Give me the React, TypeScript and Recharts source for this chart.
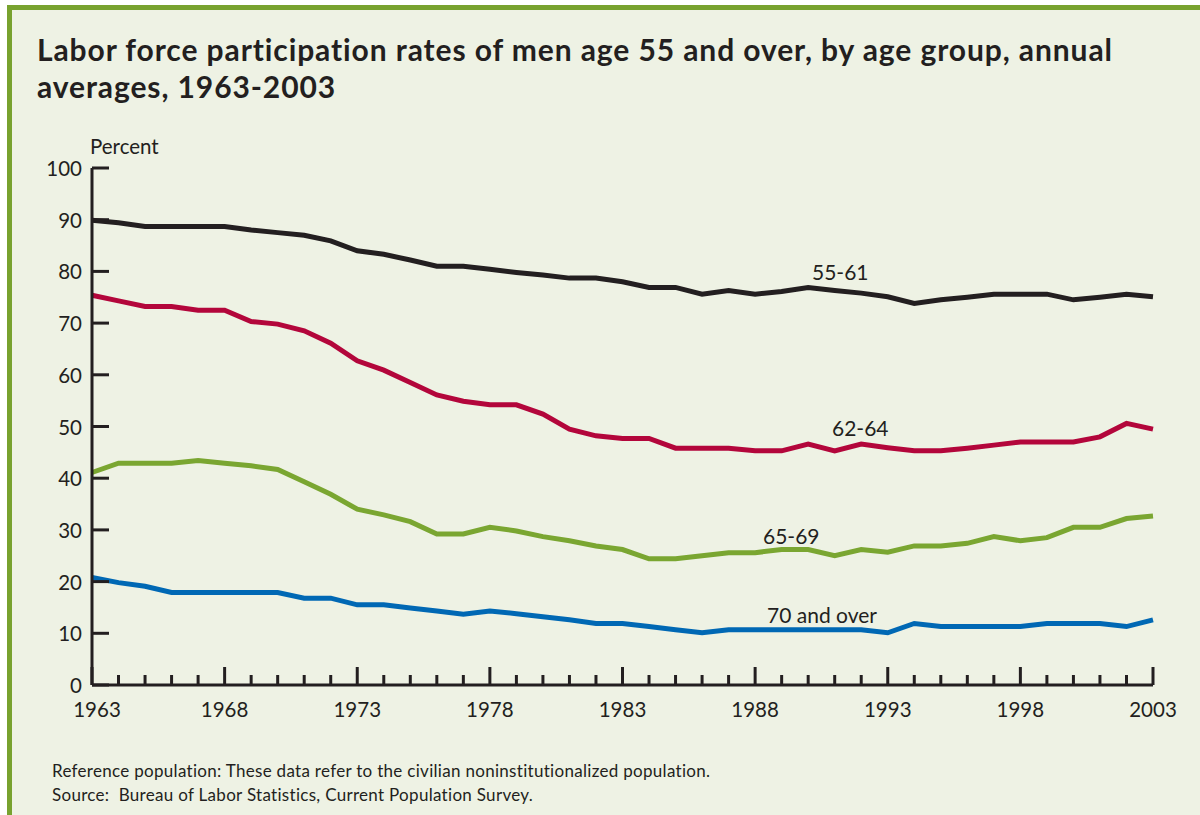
import { Line, LineChart, XAxis, YAxis } from "recharts";

const years = [
  1963, 1964, 1965, 1966, 1967, 1968, 1969, 1970, 1971, 1972, 1973, 1974, 1975, 1976,
  1977, 1978, 1979, 1980, 1981, 1982, 1983, 1984, 1985, 1986, 1987, 1988, 1989, 1990,
  1991, 1992, 1993, 1994, 1995, 1996, 1997, 1998, 1999, 2000, 2001, 2002, 2003,
];

const age55to61 = [
  89.9, 89.4, 88.7, 88.7, 88.7, 88.7, 88.0, 87.5, 87.0, 85.9, 84.0, 83.3, 82.2, 81.0,
  81.0, 80.4, 79.8, 79.3, 78.7, 78.7, 78.0, 76.9, 76.9, 75.6, 76.3, 75.6, 76.1, 76.9,
  76.3, 75.8, 75.1, 73.8, 74.5, 75.0, 75.6, 75.6, 75.6, 74.5, 75.0, 75.6, 75.1,
];

const age62to64 = [
  75.4, 74.3, 73.2, 73.2, 72.5, 72.5, 70.3, 69.8, 68.5, 66.1, 62.7, 60.9, 58.5, 56.1,
  54.9, 54.2, 54.2, 52.4, 49.5, 48.2, 47.7, 47.7, 45.8, 45.8, 45.8, 45.3, 45.3, 46.6,
  45.3, 46.6, 45.9, 45.3, 45.3, 45.8, 46.4, 47.0, 47.0, 47.0, 48.0, 50.6, 49.5,
];

const age65to69 = [
  41.1, 42.9, 42.9, 42.9, 43.4, 42.9, 42.4, 41.7, 39.3, 36.9, 34.0, 32.9, 31.6, 29.2,
  29.2, 30.5, 29.8, 28.7, 27.9, 26.9, 26.2, 24.4, 24.4, 25.0, 25.6, 25.6, 26.2, 26.2,
  25.0, 26.2, 25.7, 26.9, 26.9, 27.4, 28.7, 27.9, 28.5, 30.5, 30.5, 32.2, 32.7,
];

const age70plus = [
  20.8, 19.8, 19.1, 17.9, 17.9, 17.9, 17.9, 17.9, 16.8, 16.8, 15.5, 15.5, 14.9, 14.3,
  13.7, 14.3, 13.8, 13.2, 12.6, 11.9, 11.9, 11.3, 10.7, 10.1, 10.7, 10.7, 10.7, 10.7,
  10.7, 10.7, 10.1, 11.9, 11.3, 11.3, 11.3, 11.3, 11.9, 11.9, 11.9, 11.3, 12.6,
];

const yTicks = [0, 10, 20, 30, 40, 50, 60, 70, 80, 90, 100];
const xLabels = [1963, 1968, 1973, 1978, 1983, 1988, 1993, 1998, 2003];

const data = years.map((year, i) => ({
  year,
  a: age55to61[i],
  b: age62to64[i],
  c: age65to69[i],
  d: age70plus[i],
}));

const INK = "#231f20";
const FONT = "Lato, 'Open Sans', sans-serif";

function YTick({ x, y, payload }: any) {
  return (
    <g>
      <line x1={x} x2={x + 17} y1={y} y2={y} stroke={INK} strokeWidth={3} />
      <text x={x - 10} y={y} textAnchor="end" dominantBaseline="central" fontSize={20.5} fill={INK} fontFamily={FONT}>
        {payload.value}
      </text>
    </g>
  );
}

function XTick({ x, y, payload }: any) {
  const major = xLabels.includes(payload.value);
  return (
    <g>
      <line x1={x} x2={x} y1={y} y2={y - (major ? 18 : 10)} stroke={INK} strokeWidth={3} />
      {major && (
        <text x={payload.value === 1963 ? x + 5 : x} y={y + 32} textAnchor="middle" fontSize={20.5} fill={INK} fontFamily={FONT}>
          {payload.value}
        </text>
      )}
    </g>
  );
}

const seriesLabels = [
  { text: "55-61", left: 812, top: 272 },
  { text: "62-64", left: 832, top: 428 },
  { text: "65-69", left: 763, top: 536 },
  { text: "70 and over", left: 767, top: 615 },
];

const titleStyle = {
  position: "absolute" as const,
  left: 37,
  fontSize: 30,
  letterSpacing: 0.9,
  lineHeight: "30px",
  fontWeight: 700,
  whiteSpace: "nowrap" as const,
};

export default function App() {
  return (
    <div style={{ position: "fixed", left: 0, top: 0, width: 1200, height: 815, background: "#ffffff", fontFamily: FONT, color: INK }}>
      <div
        style={{
          position: "absolute",
          left: 7,
          top: 5,
          width: 1193,
          height: 810,
          boxSizing: "border-box",
          background: "#eef2e4",
          borderTop: "5px solid #78a22f",
          borderLeft: "5px solid #78a22f",
        }}
      />
      <div style={{ ...titleStyle, top: 34 }}>
        Labor force participation rates of men age 55 and over, by age group, annual
      </div>
      <div style={{ ...titleStyle, top: 71 }}>averages, 1963-2003</div>
      <div style={{ position: "absolute", left: 90, top: 134, fontSize: 20.5, lineHeight: "24px" }}>Percent</div>
      <div style={{ position: "absolute", left: 0, top: 0 }}>
        <LineChart width={1200} height={815} data={data} margin={{ top: 168, right: 47, bottom: 90, left: 32 }}>
          <XAxis
            dataKey="year"
            type="number"
            domain={[1963, 2003]}
            ticks={years}
            interval={0}
            height={40}
            tickSize={0}
            tickMargin={0}
            tickLine={false}
            axisLine={{ stroke: INK, strokeWidth: 3 }}
            tick={<XTick />}
          />
          <YAxis
            type="number"
            domain={[0, 100]}
            ticks={yTicks}
            interval={0}
            width={60}
            tickSize={0}
            tickMargin={0}
            tickLine={false}
            axisLine={{ stroke: INK, strokeWidth: 3 }}
            tick={<YTick />}
          />
          <Line dataKey="a" stroke="#231f20" strokeWidth={5} dot={false} isAnimationActive={false} type="linear" />
          <Line dataKey="b" stroke="#b3063b" strokeWidth={5} dot={false} isAnimationActive={false} type="linear" />
          <Line dataKey="c" stroke="#7aa631" strokeWidth={5} dot={false} isAnimationActive={false} type="linear" />
          <Line dataKey="d" stroke="#0068b4" strokeWidth={5} dot={false} isAnimationActive={false} type="linear" />
        </LineChart>
      </div>
      {seriesLabels.map((l) => (
        <div
          key={l.text}
          style={{ position: "absolute", left: l.left, top: l.top, transform: "translateY(-50%)", fontSize: 21, lineHeight: "24px", whiteSpace: "nowrap" }}
        >
          {l.text}
        </div>
      ))}
      <div style={{ position: "absolute", left: 52, top: 759, fontSize: 17, letterSpacing: 0.3, lineHeight: "24px", whiteSpace: "nowrap" }}>
        Reference population: These data refer to the civilian noninstitutionalized population.
        <br />
        Source: &nbsp;Bureau of Labor Statistics, Current Population Survey.
      </div>
    </div>
  );
}
